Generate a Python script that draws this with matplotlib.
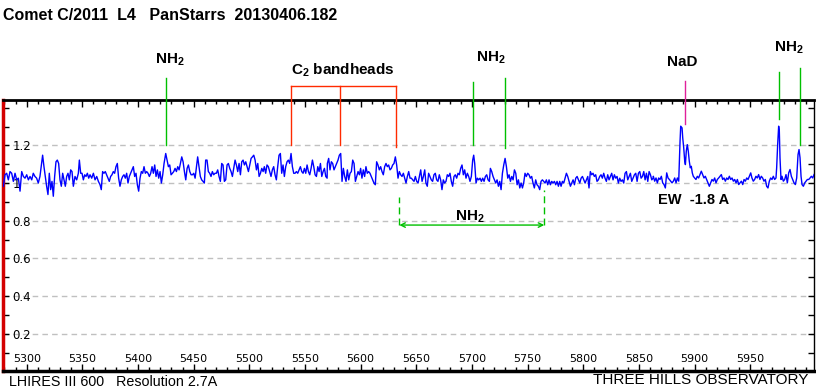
import matplotlib
matplotlib.use("Agg")
import matplotlib.pyplot as plt
from matplotlib.ticker import MultipleLocator, FixedLocator, FuncFormatter

plt.rcParams["font.family"] = ["Liberation Sans", "DejaVu Sans"]
plt.rcParams["mathtext.fontset"] = "custom"
plt.rcParams["mathtext.rm"] = "Liberation Sans"
plt.rcParams["mathtext.bf"] = "Liberation Sans:bold"

# ── spectrum (wavelength in A, relative flux) ─────────────────────────────
wl_a = [5279.0, 5280.5, 5282.0, 5283.5, 5285.0, 5286.5, 5288.0, 5289.5, 5291.0, 5292.5,
        5294.0, 5295.5, 5297.0, 5298.5, 5300.0, 5301.5, 5303.0, 5304.5, 5305.9, 5307.4,
        5308.9, 5310.4, 5311.9, 5313.4, 5314.3, 5315.5, 5316.7, 5317.9, 5319.1, 5320.3,
        5321.5, 5322.7, 5323.9, 5325.1, 5326.3, 5327.5, 5328.7, 5329.9, 5331.1, 5332.3,
        5333.5, 5334.7, 5335.9, 5337.1, 5338.3, 5339.5, 5340.7, 5341.9, 5343.4, 5344.9,
        5346.4, 5347.3, 5348.5, 5349.7, 5350.9, 5352.1, 5353.3, 5354.5, 5355.7, 5356.9,
        5358.4, 5359.9, 5361.4, 5362.9, 5364.4, 5365.9, 5367.0, 5368.2, 5369.4, 5370.6,
        5371.8, 5373.0, 5374.2, 5375.4, 5376.6, 5377.8, 5379.0, 5380.2, 5381.4, 5382.6,
        5383.8, 5385.0, 5386.2, 5387.4, 5388.6, 5389.8, 5391.0, 5392.2, 5393.4, 5394.6,
        5395.8, 5397.0, 5398.2, 5399.4, 5400.6, 5401.8, 5403.0, 5404.2, 5405.4, 5406.6,
        5407.8, 5409.0, 5410.2, 5411.4, 5412.6, 5413.8, 5415.0, 5416.2, 5417.4, 5418.6,
        5419.8, 5421.0, 5422.2, 5423.4]
flux_a = [0.983, 1.044, 1.052, 1.017, 1.061, 1.052, 1.009, 1.052, 1.017, 1.026,
          0.957, 1.061, 1.035, 1.026, 1.044, 1.017, 1.035, 1.017, 1.052, 1.035,
          1.026, 1.000, 1.035, 1.104, 1.148, 1.087, 1.035, 0.983, 0.939, 1.052,
          0.965, 1.009, 0.930, 1.035, 1.113, 1.122, 1.104, 1.017, 0.983, 1.052,
          1.017, 0.983, 1.035, 1.052, 1.017, 1.070, 1.061, 0.983, 1.035, 1.017,
          1.052, 1.122, 1.052, 1.052, 1.017, 1.044, 1.035, 1.052, 1.026, 1.044,
          1.026, 1.052, 1.017, 1.035, 1.009, 0.991, 0.965, 1.061, 1.052, 1.061,
          1.044, 1.026, 1.009, 1.035, 1.044, 1.061, 1.052, 1.087, 1.104, 1.026,
          0.983, 1.017, 1.035, 1.044, 1.026, 1.052, 1.000, 1.035, 1.052, 1.070,
          1.087, 1.035, 1.052, 0.991, 0.957, 1.026, 1.061, 1.052, 1.087, 1.052,
          1.061, 1.052, 1.035, 1.052, 1.087, 1.052, 1.096, 1.035, 1.070, 1.026,
          1.061, 1.000, 1.044, 1.104]

wl_b = [5424.9, 5426.1, 5427.3, 5428.5, 5429.7, 5430.9, 5432.1, 5433.3, 5434.5, 5435.7,
        5436.9, 5438.1, 5439.3, 5440.5, 5441.7, 5442.9, 5444.1, 5445.3, 5446.5, 5447.7,
        5448.9, 5450.1, 5451.3, 5452.5, 5453.6, 5454.8, 5456.0, 5457.2, 5458.4, 5459.6,
        5460.8, 5462.0, 5463.2, 5464.4, 5465.6, 5466.8, 5468.0, 5469.2, 5470.4, 5471.6,
        5472.8, 5474.0, 5475.2, 5476.4, 5477.6, 5478.8, 5480.0, 5481.2, 5482.4, 5483.6,
        5484.8, 5486.0, 5487.2, 5488.4, 5489.6, 5490.8, 5492.0, 5493.2, 5494.4, 5495.6,
        5496.8, 5498.0, 5499.2, 5500.4, 5501.6, 5502.8, 5504.0, 5505.2, 5506.4, 5507.6,
        5508.8, 5510.0, 5511.2, 5512.4, 5513.5, 5514.7, 5515.9, 5517.1, 5518.3, 5519.5,
        5520.7, 5521.9, 5523.1, 5524.3, 5525.5, 5526.7, 5527.9, 5529.1, 5530.3, 5531.5,
        5532.7, 5533.9, 5535.1, 5536.3, 5537.5, 5538.7, 5539.9, 5541.1, 5542.3, 5543.5,
        5544.7, 5545.9, 5547.1, 5548.3, 5549.5, 5550.7, 5551.9, 5553.1, 5554.3, 5555.5,
        5556.7, 5557.9, 5559.1, 5560.3, 5561.5, 5562.7, 5563.9, 5565.1, 5566.3, 5567.5,
        5568.7, 5569.9]
flux_b = [1.157, 1.122, 1.087, 1.096, 1.044, 1.052, 1.061, 1.078, 1.061, 1.087,
          1.070, 1.104, 1.139, 1.113, 1.061, 1.017, 1.078, 1.096, 1.061, 1.044,
          1.044, 1.052, 1.026, 1.087, 1.139, 1.087, 1.035, 1.017, 1.009, 1.000,
          1.122, 1.122, 1.061, 1.052, 1.035, 1.061, 1.044, 1.052, 1.052, 1.070,
          1.035, 1.009, 1.104, 1.096, 1.009, 1.017, 1.096, 1.104, 1.078, 1.061,
          1.035, 1.078, 1.122, 1.096, 1.061, 1.104, 1.044, 1.113, 1.122, 1.096,
          1.113, 1.087, 1.061, 1.096, 1.131, 1.139, 1.148, 1.122, 1.070, 1.104,
          1.035, 1.052, 1.078, 1.061, 1.087, 1.052, 1.096, 1.087, 1.061, 1.035,
          1.070, 1.087, 1.044, 1.017, 1.087, 1.148, 1.157, 1.052, 1.096, 1.035,
          1.087, 1.113, 1.122, 1.104, 1.157, 1.087, 1.052, 1.052, 1.061, 1.052,
          1.070, 1.087, 1.061, 1.052, 1.078, 1.052, 1.096, 1.061, 1.044, 1.078,
          1.122, 1.087, 1.044, 1.035, 1.087, 1.061, 1.104, 1.035, 1.061, 1.078,
          1.035, 1.026]

wl_c = [5570.1, 5571.3, 5572.5, 5573.7, 5574.9, 5576.1, 5577.3, 5578.5, 5579.7, 5580.9,
        5582.1, 5583.3, 5584.5, 5585.7, 5586.9, 5588.1, 5589.3, 5590.5, 5591.7, 5592.9,
        5594.1, 5595.3, 5596.5, 5597.7, 5598.9, 5600.0, 5601.2, 5602.4, 5603.6, 5604.8,
        5606.0, 5607.2, 5608.4, 5609.6, 5610.8, 5612.0, 5613.2, 5614.4, 5615.6, 5616.8,
        5618.0, 5619.2, 5620.4, 5621.6, 5622.8, 5624.0, 5625.2, 5626.4, 5627.6, 5628.8,
        5630.0, 5631.2, 5632.4, 5633.6, 5634.8, 5636.0, 5637.2, 5638.4, 5639.6, 5640.8,
        5642.0, 5643.2, 5644.4, 5645.6, 5646.8, 5648.0, 5649.2, 5650.4, 5651.6, 5652.8,
        5654.0, 5655.2, 5656.4, 5657.6, 5658.7, 5659.9, 5661.1, 5662.3, 5663.5, 5664.7,
        5665.9, 5667.1, 5668.3, 5669.5, 5670.7, 5671.9, 5673.1, 5674.3, 5675.5, 5676.7,
        5677.9, 5679.1, 5680.3, 5681.5, 5682.7, 5683.9, 5685.1, 5686.3, 5687.5, 5688.7,
        5689.9, 5691.1, 5692.3, 5693.5, 5694.7, 5695.9, 5697.1, 5698.3, 5699.5, 5700.7,
        5701.6, 5702.5, 5703.7, 5704.9, 5706.1, 5707.3, 5708.5, 5709.7, 5710.9, 5712.1,
        5713.3, 5714.5, 5715.7]
flux_c = [1.104, 1.131, 1.070, 1.113, 1.104, 1.070, 1.087, 1.104, 1.122, 1.148,
          1.157, 1.009, 1.078, 1.035, 1.009, 1.070, 1.017, 1.052, 1.061, 1.122,
          1.104, 1.009, 1.035, 1.061, 1.044, 1.078, 1.026, 1.070, 1.035, 1.087,
          1.052, 1.061, 1.052, 1.035, 1.017, 1.000, 0.991, 1.113, 1.096, 1.070,
          1.087, 1.061, 1.044, 1.087, 1.104, 1.087, 1.096, 1.070, 1.078, 1.096,
          1.104, 1.139, 1.096, 1.026, 1.061, 1.044, 1.035, 1.052, 1.026, 1.000,
          1.035, 1.061, 1.026, 1.026, 1.017, 1.009, 1.035, 1.009, 1.000, 1.035,
          1.070, 1.009, 1.035, 1.070, 1.000, 0.983, 1.052, 1.035, 1.017, 1.009,
          1.044, 1.052, 1.017, 1.009, 1.044, 1.017, 0.965, 1.017, 1.000, 1.009,
          1.044, 1.035, 1.052, 1.009, 0.983, 1.035, 1.044, 1.026, 1.052, 1.044,
          1.078, 1.096, 1.044, 1.070, 1.026, 1.052, 1.035, 1.009, 1.035, 1.122,
          1.148, 1.104, 1.000, 1.026, 1.017, 1.026, 1.009, 1.026, 1.009, 1.035,
          1.044, 1.017, 1.009]

wl_d = [5716.6, 5717.8, 5719.0, 5720.2, 5721.4, 5722.6, 5723.8, 5725.0, 5726.2, 5727.4,
        5728.6, 5729.8, 5731.0, 5732.2, 5733.4, 5734.6, 5735.8, 5737.0, 5738.2, 5739.4,
        5740.6, 5741.8, 5743.0, 5744.2, 5745.4, 5746.5, 5747.7, 5748.9, 5750.1, 5751.3,
        5752.5, 5753.7, 5754.9, 5756.1, 5757.3, 5758.5, 5759.7, 5760.9, 5762.1, 5763.3,
        5764.5, 5765.7, 5766.9, 5768.1, 5769.3, 5770.5, 5771.7, 5772.9, 5774.1, 5775.3,
        5776.5, 5777.7, 5778.9, 5780.1, 5781.3, 5782.5, 5783.7, 5784.9, 5786.1, 5787.3,
        5788.5, 5789.7, 5790.9, 5792.1, 5793.3, 5794.5, 5795.7, 5796.9, 5798.1, 5799.3,
        5800.5, 5801.7, 5802.9, 5804.1, 5805.2, 5806.4, 5807.6, 5808.8, 5810.0, 5811.2,
        5812.4, 5813.6, 5814.8, 5816.0, 5817.2, 5818.4, 5819.6, 5820.8, 5822.0, 5823.2,
        5824.4, 5825.6, 5826.8, 5828.0, 5829.2, 5830.4, 5831.6, 5832.8, 5834.0, 5835.2,
        5836.4, 5837.6, 5838.8, 5840.0, 5841.2, 5842.4, 5843.6, 5844.8, 5846.0, 5847.2,
        5848.4, 5849.6, 5850.8, 5852.0, 5853.2, 5854.4, 5855.6, 5856.8, 5858.0, 5859.2,
        5860.4, 5861.6, 5862.8]
flux_d = [1.078, 1.061, 1.035, 1.017, 1.000, 1.017, 0.983, 1.009, 0.965, 1.052,
          1.096, 1.131, 1.087, 1.026, 1.044, 1.009, 1.035, 1.017, 1.070, 1.052,
          0.991, 1.017, 0.974, 1.000, 0.974, 1.000, 1.052, 1.035, 1.052, 1.044,
          1.026, 1.035, 1.000, 0.974, 1.017, 0.991, 0.983, 0.965, 1.009, 1.017,
          1.009, 1.000, 1.017, 0.991, 1.017, 0.991, 1.009, 1.000, 1.009, 0.991,
          1.009, 0.983, 1.009, 0.983, 1.009, 1.000, 1.026, 1.052, 1.035, 1.009,
          0.983, 1.000, 1.017, 0.991, 1.026, 1.035, 1.017, 1.000, 1.026, 1.035,
          1.017, 1.000, 1.017, 1.035, 0.974, 1.061, 1.044, 1.052, 1.035, 1.044,
          1.009, 1.017, 1.035, 1.044, 1.026, 1.052, 1.026, 1.009, 1.044, 1.017,
          1.035, 1.052, 1.017, 1.044, 1.026, 1.035, 1.000, 1.026, 1.009, 1.017,
          1.000, 1.052, 1.061, 1.017, 1.035, 1.052, 1.009, 1.026, 1.044, 1.052,
          1.009, 1.052, 1.061, 1.026, 1.035, 1.061, 1.017, 1.052, 1.009, 1.061,
          1.044, 1.017, 1.026]

wl_e = [5863.0, 5864.2, 5865.4, 5866.6, 5867.8, 5869.0, 5870.2, 5871.4, 5872.6, 5873.8,
        5875.0, 5876.2, 5877.4, 5878.6, 5879.8, 5881.0, 5882.2, 5883.4, 5884.6, 5885.8,
        5887.0, 5887.6, 5888.8, 5889.4, 5890.3, 5891.2, 5891.8, 5892.6, 5893.5, 5894.4,
        5895.3, 5896.2, 5897.1, 5898.0, 5898.9, 5900.1, 5901.3, 5902.5, 5903.7, 5904.9,
        5906.1, 5907.3, 5908.5, 5909.7, 5910.9, 5912.1, 5913.3, 5914.5, 5915.7, 5916.9,
        5918.1, 5919.3, 5920.5, 5921.7, 5922.9, 5924.1, 5925.3, 5926.5, 5927.7, 5928.9,
        5930.1, 5931.3, 5932.5, 5933.7, 5934.9, 5936.1, 5937.3, 5938.5, 5939.7, 5940.9,
        5942.1, 5943.3, 5944.5, 5945.7, 5946.9, 5948.1, 5949.3, 5950.5, 5951.6, 5952.8,
        5954.0, 5955.2, 5956.4, 5957.6, 5958.8, 5960.0, 5961.2, 5962.4, 5963.6, 5964.8,
        5966.0, 5967.2, 5968.4, 5969.6, 5970.8, 5972.0, 5973.2, 5973.8, 5974.7, 5975.6,
        5976.2, 5976.8, 5977.7, 5978.6, 5979.8, 5981.0, 5982.2, 5983.4, 5984.6, 5985.8,
        5987.0, 5988.2, 5989.4, 5990.6, 5991.8, 5993.0, 5993.9, 5994.8, 5995.7, 5996.6,
        5997.8, 5999.0, 6000.2, 6001.4, 6002.6, 6003.8, 6005.0, 6006.2, 6007.4]
flux_e = [1.036, 1.010, 1.027, 1.001, 1.027, 1.019, 1.036, 1.001, 0.992, 0.974,
          1.054, 1.027, 1.019, 1.010, 1.001, 1.010, 1.027, 1.001, 1.027, 1.010,
          1.222, 1.302, 1.293, 1.240, 1.187, 1.116, 1.098, 1.169, 1.204, 1.169,
          1.116, 1.081, 1.089, 1.054, 1.036, 1.027, 1.019, 1.036, 1.027, 1.045,
          1.063, 1.045, 1.027, 1.036, 1.019, 1.001, 0.983, 1.001, 1.019, 1.010,
          1.027, 1.001, 1.019, 1.027, 1.036, 1.045, 1.019, 1.027, 1.010, 1.027,
          1.019, 1.036, 1.019, 1.027, 1.010, 1.019, 1.001, 1.019, 0.992, 1.001,
          1.010, 0.992, 1.019, 1.010, 1.027, 1.019, 1.036, 1.054, 1.027, 1.010,
          1.019, 1.036, 1.027, 1.045, 1.019, 1.036, 1.027, 1.010, 1.019, 0.983,
          0.974, 1.010, 1.027, 1.019, 1.036, 1.019, 1.027, 1.081, 1.204, 1.302,
          1.275, 1.134, 1.019, 1.036, 1.010, 1.019, 1.045, 1.001, 1.054, 1.072,
          1.036, 1.019, 1.001, 0.992, 1.027, 1.151, 1.178, 1.134, 1.036, 0.992,
          0.983, 1.001, 1.010, 1.019, 1.019, 1.027, 1.036, 1.027, 1.045]

# ── line identifications ──────────────────────────────────────────────────
nh2_wl = [5424.9, 5701.3, 5730.0, 5976.2, 5995.2]
nh2_lo = [1.200, 1.200, 1.188, 1.340, 1.202]
nh2_hi = [1.558, 1.537, 1.558, 1.590, 1.611]
c2_wl = [5537.7, 5581.5, 5631.8]
c2_lo = [1.200, 1.200, 1.193]
c2_top = 1.515
nad_wl, nad_lo, nad_hi = 5891.7, 1.314, 1.543
band_wl = [5634.8, 5765.0]   # NH2 band span below the continuum
band_tops = [0.926, 0.963]
band_y = 0.777

x_ticks = [5300, 5350, 5400, 5450, 5500, 5550, 5600, 5650, 5700, 5750, 5800, 5850, 5900, 5950]
y_ticks = [0.2, 0.4, 0.6, 0.8, 1.0, 1.2]
y_minor = [0.1, 0.3, 0.5, 0.7, 0.9, 1.1, 1.3, 1.4]

GREEN = "#00c000"
RED = "#ff2a00"
MAGENTA = "#e0209a"
NH2 = r"$\mathbf{NH_2}$"

fig = plt.figure(figsize=(8.16, 3.88), dpi=100)
ax = fig.add_axes([3 / 816, 16.6 / 388, 810.5 / 816, 271.4 / 388])

for wl, fl in [(wl_a, flux_a), (wl_b, flux_b), (wl_c, flux_c), (wl_d, flux_d), (wl_e, flux_e)]:
    assert len(wl) == len(fl)
wl_all = wl_a + wl_b + wl_c + wl_d + wl_e
flux_all = flux_a + flux_b + flux_c + flux_d + flux_e
ax.plot(wl_all, flux_all, color="#0000ff", lw=1.0, zorder=3)

ax.set_xlim(5278.7, 6006.9)
ax.set_ylim(0, 1.441)

# axes frame
ax.spines["left"].set_color("#d40000")
ax.spines["left"].set_linewidth(2.5)
ax.spines["top"].set_linewidth(2)
ax.spines["bottom"].set_linewidth(2.5)
ax.spines["right"].set_linewidth(1)

# ticks: all inward, labels inside the frame
ax.xaxis.set_major_locator(FixedLocator(x_ticks))
ax.xaxis.set_minor_locator(MultipleLocator(10))
ax.tick_params(axis="x", which="both", direction="in", top=True, bottom=True,
               labelsize=8, pad=-12.5, width=1)
ax.tick_params(axis="x", which="major", length=5)
ax.tick_params(axis="x", which="minor", length=3)

ax.yaxis.set_major_locator(FixedLocator(y_ticks))
ax.yaxis.set_minor_locator(FixedLocator(y_minor))
ax.yaxis.set_major_formatter(FuncFormatter(lambda v, p: f"{v:g}"))
ax.tick_params(axis="y", which="both", direction="in", left=True, right=True,
               labelsize=8.5, pad=-7, length=4, width=1)
plt.setp(ax.get_yticklabels(), ha="left")
plt.setp(ax.get_xticklabels(), family="DejaVu Sans")
plt.setp(ax.get_yticklabels(), family="DejaVu Sans")

ax.yaxis.grid(True, which="major", color="#c0c0c0", linestyle=(0, (4, 3)), lw=1)
ax.set_axisbelow(True)

# NH2 markers above the spectrum
for x, lo, hi in zip(nh2_wl, nh2_lo, nh2_hi):
    ax.plot([x, x], [lo, hi], color=GREEN, lw=1, clip_on=False, zorder=4)
# C2 bracket
for x, lo in zip(c2_wl, c2_lo):
    ax.plot([x, x], [lo, c2_top], color=RED, lw=1, clip_on=False, zorder=4)
ax.plot([c2_wl[0], c2_wl[-1]], [c2_top, c2_top], color=RED, lw=1, clip_on=False)
# NaD
ax.plot([nad_wl, nad_wl], [nad_lo, nad_hi], color=MAGENTA, lw=1, clip_on=False, zorder=4)

# NH2 band span below the continuum
for x, top in zip(band_wl, band_tops):
    ax.plot([x, x], [band_y, top], color=GREEN, lw=1, linestyle=(0, (5, 3)))
ax.annotate("", xy=(band_wl[0], band_y), xytext=(band_wl[1], band_y),
            arrowprops=dict(arrowstyle="<->", color=GREEN, lw=1,
                            shrinkA=0, shrinkB=0, mutation_scale=8))

lab = dict(ha="center", va="center", fontsize=11, fontweight="bold", clip_on=False)
ax.text(5428.7, 1.654, NH2, **lab)
ax.text(5716.9, 1.665, NH2, **lab)
ax.text(5984.9, 1.717, NH2, **lab)
ax.text(5889.4, 1.643, "NaD", **lab)
ax.text(5584.2, 1.601, r"$\mathbf{C_2}$ bandheads", **lab)
ax.text(5698.4, 0.822, NH2, **lab)
ax.text(5898.8, 0.910, "EW  -1.8 A", ha="center", va="center", fontsize=10.5,
        fontweight="bold")

fig.text(3 / 816, 1 - 15 / 388, "Comet C/2011  L4   PanStarrs  20130406.182",
         ha="left", va="center", fontsize=11.5, fontweight="bold")
fig.text(8.7 / 816, 1 - 382 / 388, "LHIRES III 600   Resolution 2.7A",
         ha="left", va="center", fontsize=10.3)
fig.text(808 / 816, 1 - 380 / 388, "THREE HILLS OBSERVATORY",
         ha="right", va="center", fontsize=11)

fig.savefig("out.png", dpi=100)
